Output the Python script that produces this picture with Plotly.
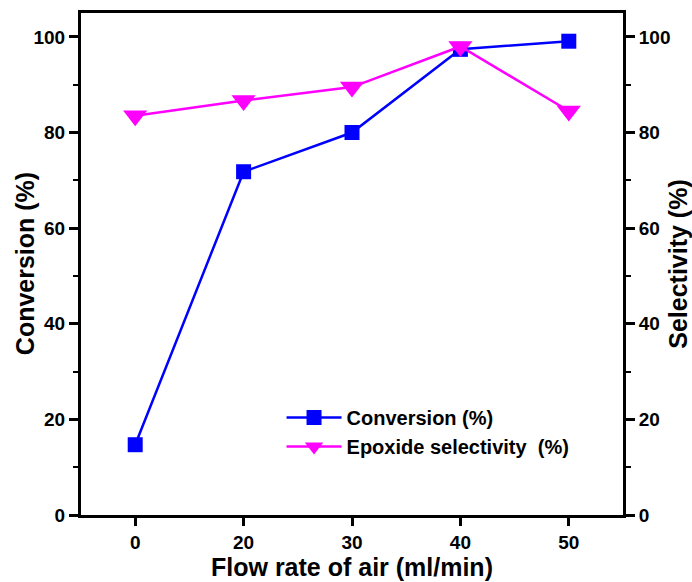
import plotly.graph_objects as go

# Flow rate of air (ml/min), plotted as evenly spaced categories
flow_rate = ["0", "20", "30", "40", "50"]
# Conversion (%) on the left axis
conversion = [14.7, 71.8, 80.0, 97.4, 99.1]
# Epoxide selectivity (%) on the right axis
selectivity = [83.5, 86.7, 89.5, 98.0, 84.5]

y_ticks = [0, 20, 40, 60, 80, 100]

FONT = "Liberation Sans, Arial, Helvetica, sans-serif"
TICK_SIZE = 19
TITLE_SIZE = 25

fig = go.Figure()

fig.add_trace(go.Scatter(
    x=flow_rate, y=conversion,
    mode="lines+markers",
    name="Conversion (%)",
    line=dict(color="#0000FF", width=2.5),
    marker=dict(symbol="square", size=15, color="#0000FF"),
    yaxis="y",
))

fig.add_trace(go.Scatter(
    x=flow_rate, y=selectivity,
    mode="lines+markers",
    name="Epoxide selectivity\u00a0\u00a0(%)",
    line=dict(color="#FF00FF", width=2.5),
    marker=dict(symbol="triangle-down", size=21, color="#FF00FF"),
    yaxis="y2",
))

axis_common = dict(
    showline=True, linecolor="black", linewidth=3,
    showgrid=False, zeroline=False, automargin=False,
    ticks="outside", tickwidth=3, tickcolor="black",
    tickfont=dict(family=FONT, size=TICK_SIZE, color="black", weight="bold"),
)
title_font = dict(family=FONT, size=TITLE_SIZE, color="black", weight="bold")
minor_ticks = dict(ticks="outside", ticklen=5, tickwidth=2, tickcolor="black", dtick=10, tick0=0)

fig.update_layout(
    width=692, height=582,
    margin=dict(l=81, r=69, t=13, b=67),
    paper_bgcolor="white", plot_bgcolor="white",
    font=dict(family=FONT, color="black", weight="bold"),
    xaxis=dict(
        type="category",
        range=[-0.5, 4.5],
        mirror=True,
        ticklen=8,
        title=dict(text="Flow rate of air (ml/min)", font=title_font, standoff=6),
        **axis_common,
    ),
    yaxis=dict(
        range=[0, 105],
        tickvals=y_ticks,
        ticklen=9,
        minor=minor_ticks,
        **axis_common,
    ),
    yaxis2=dict(
        range=[0, 105],
        tickvals=y_ticks,
        ticklen=9,
        overlaying="y",
        side="right",
        minor=minor_ticks,
        title=dict(text="Selectivity (%)", font=title_font, standoff=2),
        **axis_common,
    ),
    legend=dict(
        x=0.37, y=0.233, xanchor="left", yanchor="top",
        bgcolor="rgba(0,0,0,0)",
        font=dict(family=FONT, size=20, color="black", weight="bold"),
        itemwidth=55,
        tracegroupgap=0,
    ),
    showlegend=True,
)

# Left axis title, set a little closer to the tick labels than the default standoff allows
fig.add_annotation(
    text="Conversion (%)", textangle=-90,
    xref="paper", yref="paper", x=-0.103, y=0.5,
    xanchor="center", yanchor="middle", showarrow=False,
    font=title_font,
)

fig.write_html("out.html")
